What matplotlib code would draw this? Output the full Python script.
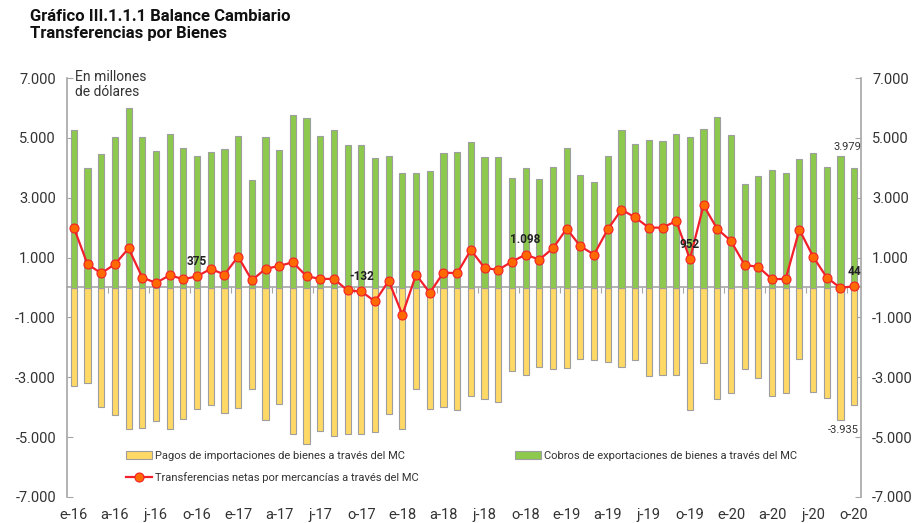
import numpy as np
import matplotlib
matplotlib.use('Agg')
import matplotlib.pyplot as plt
from matplotlib.ticker import FuncFormatter, NullFormatter

plt.rcParams['font.family'] = ['Roboto', 'DejaVu Sans']

# datos mensuales (millones de dólares), ene-2016 a oct-2020
meses = ['e', 'f', 'm', 'a', 'm', 'j', 'j', 'a', 's', 'o', 'n', 'd']
anios = ['16', '17', '18', '19', '20']
etiquetas = [m + '-' + a for a in anios for m in meses][:58]

cobros = [5253, 3977, 4477, 5033, 6010, 5033, 4567, 5133, 4667, 4410,
          4533, 4633, 5077, 3600, 5033, 4600, 5767, 5667, 5077, 5253,
          4767, 4767, 4322, 4410, 3822, 3822, 3889, 4510, 4533, 4877,
          4377, 4377, 3667, 4000, 3633, 4033, 4667, 3744, 3522, 4410,
          5267, 4800, 4943, 4910, 5133, 5033, 5288, 5700, 5100, 3467,
          3722, 3910, 3822, 4288, 4500, 4033, 4400, 3979]

pagos = [-3300, -3200, -4000, -4267, -4733, -4700, -4444, -4733, -4390, -4067,
         -3922, -4200, -4033, -3378, -4422, -3889, -4911, -5233, -4800, -4978,
         -4889, -4889, -4833, -4233, -4733, -3378, -4067, -4000, -4100, -3633,
         -3722, -3822, -2789, -2911, -2667, -2722, -2700, -2389, -2433, -2500,
         -2667, -2433, -2944, -2911, -2911, -4089, -2533, -3722, -3533, -2722,
         -3033, -3633, -3533, -2378, -3478, -3689, -4411, -3935]

netas = [2000, 777, 477, 777, 1310, 333, 155, 410, 277, 375,
         622, 433, 1033, 243, 622, 722, 843, 375, 288, 288,
         -100, -132, -467, 222, -911, 433, -178, 500, 477, 1255,
         655, 588, 866, 1098, 933, 1310, 1966, 1377, 1100, 1944,
         2600, 2344, 2000, 2000, 2222, 952, 2744, 1955, 1555, 755,
         688, 277, 288, 1933, 1033, 333, -12, 44]

# puntos de la línea con etiqueta
idx_etiq = [9, 21, 33, 45, 57]

x = np.arange(len(cobros))
gris = '#A6A6A6'

fig = plt.figure(figsize=(9.15, 5.23), dpi=100)
ax = fig.add_axes([67/915, 1-497/523, (861-67)/915, (497-78)/523])

b1 = ax.bar(x, pagos, width=0.45, color='#FFD966', edgecolor='#9E9E9E',
            linewidth=0.8, zorder=2,
            label='Pagos de importaciones de bienes a través del MC')
b2 = ax.bar(x, cobros, width=0.45, color='#8DC94C', edgecolor='#9E9E9E',
            linewidth=0.8, zorder=2,
            label='Cobros de exportaciones de bienes a través del MC')
l1, = ax.plot(x, netas, color='#F2202A', linewidth=1.6, marker='o',
              markersize=6.5, markerfacecolor='#FF6A00',
              markeredgecolor='#F2202A', markeredgewidth=0.8, zorder=4,
              label='Transferencias netas por mercancías a través del MC')

for i in idx_etiq:
    txt = '{:,}'.format(netas[i]).replace(',', '.')
    ax.annotate(txt, (x[i], netas[i]), xytext=(0, 6), textcoords='offset points',
                ha='center', va='bottom', fontsize=8.5, fontweight='bold',
                color='#222222', zorder=5)

ult = len(x) - 1
ax.annotate('{:,}'.format(cobros[ult]).replace(',', '.'), (x[ult], cobros[ult]),
            xytext=(5, 12), textcoords='offset points', ha='right', va='bottom',
            fontsize=8, color='#333333')
ax.annotate('{:,}'.format(pagos[ult]).replace(',', '.'), (x[ult], pagos[ult]),
            xytext=(3, -14), textcoords='offset points', ha='right', va='top',
            fontsize=8, color='#333333')

ax.set_xlim(-0.5, len(x) - 0.5)
ax.set_ylim(-7000, 7000)
ax.set_yticks(np.arange(-7000, 7001, 2000))
ax.yaxis.set_major_formatter(FuncFormatter(lambda v, p: '{:,.0f}'.format(v).replace(',', '.')))
ax.set_xticks(x[::3])
ax.set_xticklabels(etiquetas[::3])

for s in ['top', 'bottom']:
    ax.spines[s].set_visible(False)
for s in ['left', 'right']:
    ax.spines[s].set_color(gris)
    ax.spines[s].set_linewidth(1.2)

ax.tick_params(axis='y', direction='in', length=4, color=gris, labelsize=10.5,
               labelcolor='#333333', right=True, labelright=True, pad=8)
ax.tick_params(axis='x', length=0, labelsize=10.5, labelcolor='#333333', pad=8)

# eje de categorías en cero
sec = ax.secondary_xaxis(0.5)
sec.set_xticks(np.arange(2.5, len(x) - 1, 3))
sec.xaxis.set_major_formatter(NullFormatter())
sec.tick_params(direction='in', length=4, color=gris)
for s in sec.spines.values():
    s.set_color(gris)
    s.set_linewidth(1.2)

ax.text(0.01, 1.02, 'En millones\nde dólares', transform=ax.transAxes,
        ha='left', va='top', fontsize=10, color='#333333', linespacing=1.1)

fig.text(30/915, 1-9/523, 'Gráfico III.1.1.1 Balance Cambiario\nTransferencias por Bienes',
         ha='left', va='top', fontsize=12, fontweight='bold', color='#111111',
         linespacing=1.2)

leg = fig.legend(handles=[b1, l1, b2], ncol=2, loc='upper left',
                 bbox_to_anchor=(126/915, 1-451/523), frameon=False,
                 fontsize=8, handlelength=2.3, handletextpad=0.3,
                 columnspacing=8.7, labelspacing=1.0, borderpad=0,
                 borderaxespad=0)
for t in leg.get_texts():
    t.set_color('#333333')

fig.savefig('out.png', dpi=100)
